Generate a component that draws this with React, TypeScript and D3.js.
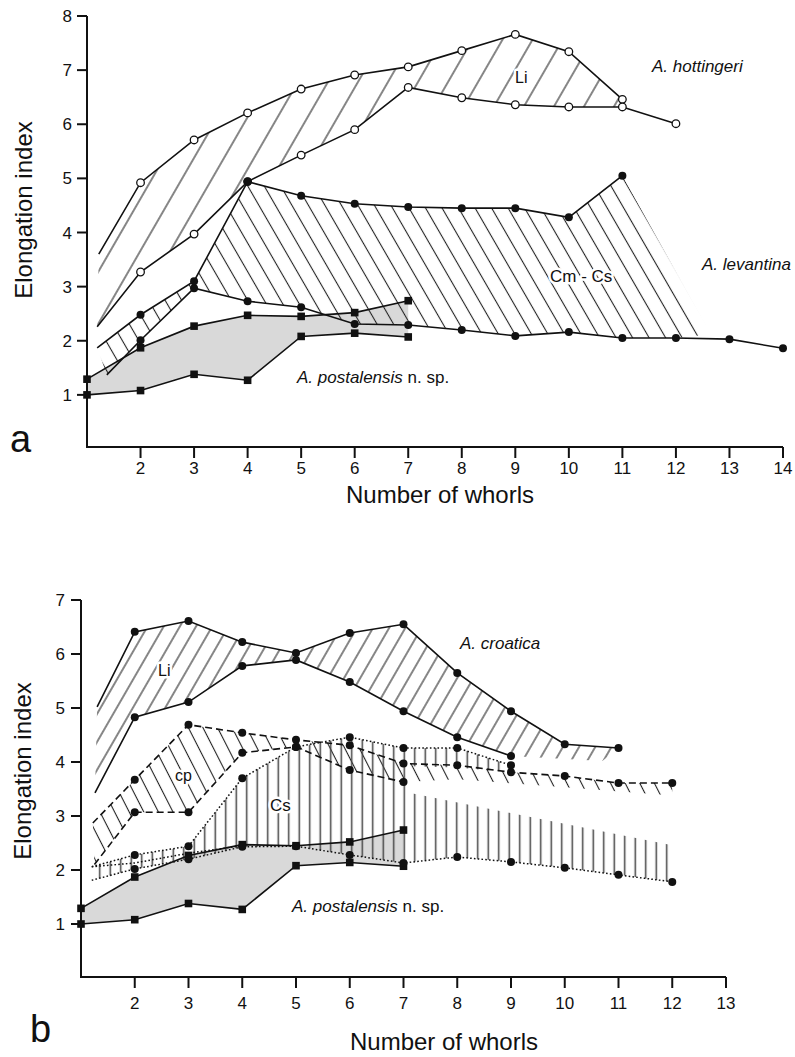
import React from 'react';
import * as d3 from 'd3';

type Pt = [number, number];

// ---- panel a : A. hottingeri, A. levantina, A. postalensis ----
const hottUpper: Pt[] = [[1.22, 3.6], [2, 4.92], [3, 5.71], [4, 6.21], [5, 6.65], [6, 6.91], [7, 7.06], [8, 7.36], [9, 7.66], [10, 7.34], [11, 6.46]];
const hottLower: Pt[] = [[1.19, 2.26], [2, 3.27], [3, 3.97], [4, 4.94], [5, 5.43], [6, 5.9], [7, 6.68], [8, 6.49], [9, 6.36], [10, 6.32], [11, 6.32], [12, 6.01]];
const levUpper: Pt[] = [[1.19, 1.87], [2, 2.48], [3, 3.1], [4, 4.94], [5, 4.68], [6, 4.53], [7, 4.47], [8, 4.45], [9, 4.45], [10, 4.28], [11, 5.05]];
const levLower: Pt[] = [[1.37, 1.37], [2, 2.01], [3, 2.97], [4, 2.73], [5, 2.62], [6, 2.31], [7, 2.29], [8, 2.2], [9, 2.09], [10, 2.16], [11, 2.05], [12, 2.05], [13, 2.03], [14, 1.86]];
const cmcsEdge: Pt[] = [[12.65, 2.12]];

// A. postalensis n. sp. (same in both panels)
const postUpper: Pt[] = [[1, 1.29], [2, 1.87], [3, 2.27], [4, 2.47], [5, 2.45], [6, 2.52], [7, 2.74]];
const postLower: Pt[] = [[1, 1.0], [2, 1.08], [3, 1.38], [4, 1.27], [5, 2.08], [6, 2.14], [7, 2.07]];

// ---- panel b : A. croatica ----
const croUpper: Pt[] = [[1.3, 5.02], [2, 6.41], [3, 6.61], [4, 6.22], [5, 6.02], [6, 6.39], [7, 6.55], [8, 5.65], [9, 4.94], [10, 4.33], [11, 4.26]];
const croLower: Pt[] = [[1.26, 3.43], [2, 4.83], [3, 5.11], [4, 5.78], [5, 5.89], [6, 5.48], [7, 4.94], [8, 4.46], [9, 4.11]];
const liEdgeB: Pt[] = [[10.7, 4.02]];
const cpUpper: Pt[] = [[1.22, 2.87], [2, 3.67], [3, 4.69], [4, 4.54], [5, 4.41], [6, 4.31], [7, 3.97], [8, 3.94], [9, 3.81], [10, 3.74], [11, 3.61], [12, 3.61]];
const cpLower: Pt[] = [[1.25, 2.1], [2, 3.07], [3, 3.07], [4, 4.17], [5, 4.28], [6, 3.85], [7, 3.63]];
const cpEdgeB: Pt[] = [[12, 3.38], [8, 3.68]];
const csUpper: Pt[] = [[1.2, 2.06], [2, 2.28], [3, 2.44], [4, 3.7], [5, 4.28], [6, 4.46], [7, 4.26], [8, 4.26], [9, 3.94]];
const csBand: Pt[] = [[1.2, 2.06], [2, 2.13], [3, 2.31], [4, 2.45]];
const csLower: Pt[] = [[1.2, 1.81], [2, 2.02], [3, 2.2], [4, 2.43], [5, 2.44], [6, 2.28], [7, 2.13], [8, 2.24], [9, 2.15], [10, 2.04], [11, 1.91], [12, 1.78]];
const csEdgeB: Pt[] = [[9, 3.81], [8, 3.9], [7.15, 3.92], [7.15, 3.42], [12, 2.46]];

const xTicksA = [2, 3, 4, 5, 6, 7, 8, 9, 10, 11, 12, 13, 14];
const yTicksA = [1, 2, 3, 4, 5, 6, 7, 8];
const xTicksB = [2, 3, 4, 5, 6, 7, 8, 9, 10, 11, 12, 13];
const yTicksB = [1, 2, 3, 4, 5, 6, 7];

const FONT = '"Liberation Sans", Arial, Helvetica, sans-serif';

const xa = d3.scaleLinear().domain([1, 14]).range([87, 783]);
const ya = d3.scaleLinear().domain([0, 8]).range([449, 16]);
const xb = d3.scaleLinear().domain([1, 13]).range([81, 726]);
const yb = d3.scaleLinear().domain([0, 7]).range([978, 600]);

const rev = (a: Pt[]) => a.slice().reverse();
const isInt = (d: Pt) => Number.isInteger(d[0]);

function Axes({ x, y, xTicks, yTicks, yTop, axisY, tickLen, xLabY, yLabX }: any) {
  const x0 = x(1);
  const xEnd = x(xTicks[xTicks.length - 1]);
  return (
    <g fontFamily={FONT} fill="#111">
      <path d={`M${x0},${y(yTop)}V${axisY}H${xEnd}`} fill="none" stroke="#111" strokeWidth={2} />
      {yTicks.map((t: number) => (
        <g key={'y' + t}>
          <line x1={x0 - 10} x2={x0} y1={y(t)} y2={y(t)} stroke="#111" strokeWidth={2} />
          <text x={yLabX} y={y(t)} dy="0.36em" textAnchor="end" fontSize={17}>{t}</text>
        </g>
      ))}
      {xTicks.map((t: number) => (
        <g key={'x' + t}>
          <line x1={x(t)} x2={x(t)} y1={axisY} y2={axisY + tickLen} stroke="#111" strokeWidth={2} />
          <text x={x(t)} y={xLabY} textAnchor="middle" fontSize={17}>{t}</text>
        </g>
      ))}
    </g>
  );
}

function Series({ data, x, y, dash, marker }: any) {
  const line = d3.line<Pt>().x(d => x(d[0])).y(d => y(d[1]));
  return (
    <g>
      <path d={line(data) || ''} fill="none" stroke="#111"
        strokeWidth={dash === 'dot' ? 1.5 : 1.6}
        strokeDasharray={dash === 'dash' ? '7 4' : dash === 'dot' ? '1.6 2.2' : undefined} />
      {marker && data.filter(isInt).map((d: Pt, i: number) => {
        const cx = x(d[0]);
        const cy = y(d[1]);
        if (marker === 'open') return <circle key={i} cx={cx} cy={cy} r={3.8} fill="#fff" stroke="#111" strokeWidth={1.3} />;
        if (marker === 'square') return <rect key={i} x={cx - 3.8} y={cy - 3.8} width={7.6} height={7.6} fill="#111" />;
        return <circle key={i} cx={cx} cy={cy} r={4} fill="#111" />;
      })}
    </g>
  );
}

function Area({ pts, x, y, fill }: any) {
  const line = d3.line<Pt>().x(d => x(d[0])).y(d => y(d[1]));
  return <path d={(line(pts) || '') + 'Z'} fill={fill} stroke="none" />;
}

function Label({ x, y, children, size = 17, italic = false }: any) {
  return (
    <text x={x} y={y} fontFamily={FONT} fontSize={size} fill="#111" fontStyle={italic ? 'italic' : 'normal'}
      stroke="#fff" strokeWidth={5} paintOrder="stroke" strokeLinejoin="round">{children}</text>
  );
}

function Hatch({ id, gap, angle, width = 1, color = '#222' }: any) {
  return (
    <pattern id={id} width={gap} height={gap} patternUnits="userSpaceOnUse" patternTransform={`rotate(${angle})`}>
      <line x1={gap / 2} x2={gap / 2} y1={-1} y2={gap + 1} stroke={color} strokeWidth={width} />
    </pattern>
  );
}

export default function App() {
  return (
    <svg width={795} height={1057} style={{ position: 'absolute', left: 0, top: 0, background: '#fff' }}>
      <defs>
        <Hatch id="hLiA" gap={26} angle={30} width={1.1} />
        <Hatch id="hCmA" gap={14.3} angle={-30} width={1.1} />
        <Hatch id="hLiB" gap={14} angle={30} width={1.1} />
        <Hatch id="hCpB" gap={13} angle={-27} width={1.1} />
        <Hatch id="hCsB" gap={10.5} angle={0} width={1.5} color="#444" />
      </defs>
      <rect width={795} height={1057} fill="#fff" />

      {/* ---------- panel a ---------- */}
      <Area pts={[...postUpper, ...rev(postLower)]} x={xa} y={ya} fill="#d9d9d9" />
      <Area pts={[...hottUpper, ...rev(hottLower.filter(d => d[0] <= 11))]} x={xa} y={ya} fill="url(#hLiA)" />
      <Area pts={[...levUpper, ...cmcsEdge, ...rev(levLower.filter(d => d[0] <= 12))]} x={xa} y={ya} fill="url(#hCmA)" />
      <Axes x={xa} y={ya} xTicks={xTicksA} yTicks={yTicksA} yTop={8} axisY={447} tickLen={11} xLabY={474} yLabX={72} />
      <Series data={postUpper} x={xa} y={ya} marker="square" />
      <Series data={postLower} x={xa} y={ya} marker="square" />
      <Series data={levLower} x={xa} y={ya} marker="dot" />
      <Series data={hottUpper} x={xa} y={ya} marker="open" />
      <Series data={hottLower} x={xa} y={ya} marker="open" />
      <Series data={levUpper} x={xa} y={ya} marker="dot" />
      <Label x={652} y={72} italic>A. hottingeri</Label>
      <Label x={702} y={270} italic>A. levantina</Label>
      <Label x={515} y={83} size={16}>Li</Label>
      <Label x={550} y={282}>Cm - Cs</Label>
      <text x={297} y={383} fontFamily={FONT} fontSize={17} fill="#111">
        <tspan fontStyle="italic">A. postalensis</tspan> n. sp.
      </text>
      <text transform="translate(32,210) rotate(-90)" textAnchor="middle" fontFamily={FONT} fontSize={24} fill="#111">Elongation index</text>
      <text x={440} y={503} textAnchor="middle" fontFamily={FONT} fontSize={24} fill="#111">Number of whorls</text>
      <text x={10} y={452} fontFamily={FONT} fontSize={38} fill="#111">a</text>

      {/* ---------- panel b ---------- */}
      <Area pts={[...postUpper, ...rev(postLower)]} x={xb} y={yb} fill="#d9d9d9" />
      <Area pts={[...croUpper, ...liEdgeB, ...rev(croLower)]} x={xb} y={yb} fill="url(#hLiB)" />
      <Area pts={[...cpUpper, ...cpEdgeB, ...rev(cpLower)]} x={xb} y={yb} fill="url(#hCpB)" />
      <Area pts={[...csUpper, ...csEdgeB, ...rev(csLower)]} x={xb} y={yb} fill="url(#hCsB)" />
      <Axes x={xb} y={yb} xTicks={xTicksB} yTicks={yTicksB} yTop={7} axisY={977} tickLen={11} xLabY={1009} yLabX={65} />
      <Series data={postUpper} x={xb} y={yb} marker="square" />
      <Series data={postLower} x={xb} y={yb} marker="square" />
      <Series data={csLower} x={xb} y={yb} dash="dot" marker="dot" />
      <Series data={csBand} x={xb} y={yb} dash="dot" />
      <Series data={csUpper} x={xb} y={yb} dash="dot" marker="dot" />
      <Series data={cpLower} x={xb} y={yb} dash="dash" marker="dot" />
      <Series data={cpUpper} x={xb} y={yb} dash="dash" marker="dot" />
      <Series data={croLower} x={xb} y={yb} marker="dot" />
      <Series data={croUpper} x={xb} y={yb} marker="dot" />
      <Label x={460} y={649} italic>A. croatica</Label>
      <Label x={158} y={676} size={16}>Li</Label>
      <Label x={175} y={781} size={16}>cp</Label>
      <Label x={270} y={811} size={17}>Cs</Label>
      <text x={292} y={912} fontFamily={FONT} fontSize={17} fill="#111">
        <tspan fontStyle="italic">A. postalensis</tspan> n. sp.
      </text>
      <text transform="translate(31,771) rotate(-90)" textAnchor="middle" fontFamily={FONT} fontSize={24} fill="#111">Elongation index</text>
      <text x={444} y={1050} textAnchor="middle" fontFamily={FONT} fontSize={24} fill="#111">Number of whorls</text>
      <text x={30} y={1042} fontFamily={FONT} fontSize={38} fill="#111">b</text>
    </svg>
  );
}
